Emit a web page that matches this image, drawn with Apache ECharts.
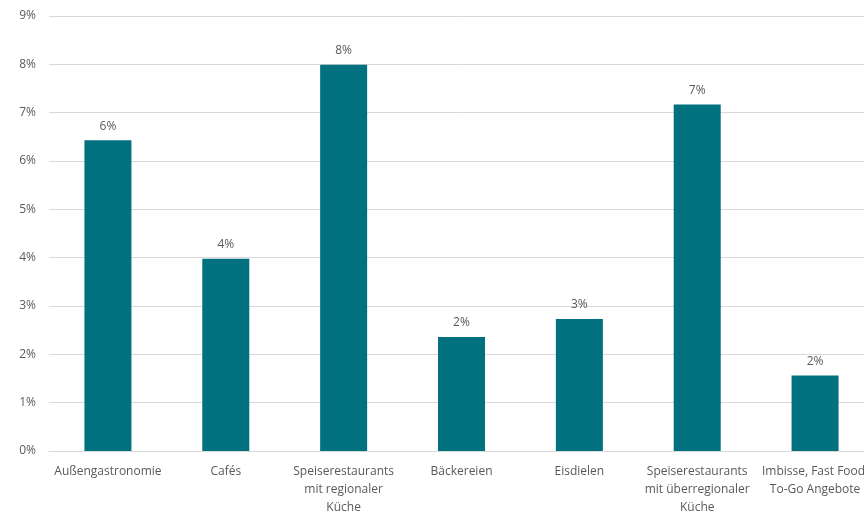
<!DOCTYPE html>
<html>
<head>
<meta charset="utf-8">
<script src="https://cdn.jsdelivr.net/npm/echarts@6/dist/echarts.min.js"></script>
<style>
  html, body { margin: 0; padding: 0; background: #ffffff; overflow: hidden; width: 864px; height: 517px; }
  #chart { width: 874px; height: 517px; }
</style>
</head>
<body>
<div id="chart"></div>
<script>
// Categories (line breaks as shown under the axis)
const categories = [
  'Außengastronomie',
  'Cafés',
  'Speiserestaurants\nmit regionaler\nKüche',
  'Bäckereien',
  'Eisdielen',
  'Speiserestaurants\nmit überregionaler\nKüche',
  'Imbisse, Fast Food,\nTo-Go Angebote'
];

// Share per category, in percent
const shares = [6.43, 3.98, 7.99, 2.36, 2.73, 7.17, 1.56];

// Value axis ticks
const axisMin = 0;
const axisMax = 9;
const axisStep = 1;

const textColor = '#595959';
const fontFamily = '"Open Sans", "Noto Sans", sans-serif';

const chart = echarts.init(document.getElementById('chart'));
chart.setOption({
  animation: false,
  backgroundColor: '#ffffff',
  grid: { left: 49, right: 0, top: 16, bottom: 62, containLabel: false },
  xAxis: {
    type: 'category',
    data: categories,
    axisLine: { lineStyle: { color: '#d9d9d9', width: 1 } },
    axisTick: { show: false },
    axisLabel: {
      color: textColor,
      fontFamily: fontFamily,
      fontSize: 12,
      lineHeight: 18,
      margin: 12,
      interval: 0
    }
  },
  yAxis: {
    type: 'value',
    min: axisMin,
    max: axisMax,
    interval: axisStep,
    axisLine: { show: false },
    axisTick: { show: false },
    splitLine: { lineStyle: { color: '#d9d9d9', width: 1 } },
    axisLabel: {
      color: textColor,
      fontFamily: fontFamily,
      fontSize: 12,
      margin: 13,
      formatter: v => v + '%'
    }
  },
  series: [{
    type: 'bar',
    data: shares,
    barWidth: 47,
    itemStyle: { color: '#01707f' },
    label: {
      show: true,
      position: 'top',
      distance: 8,
      color: textColor,
      fontFamily: fontFamily,
      fontSize: 12,
      formatter: p => Math.round(p.value) + '%'
    }
  }]
});
</script>
</body>
</html>
